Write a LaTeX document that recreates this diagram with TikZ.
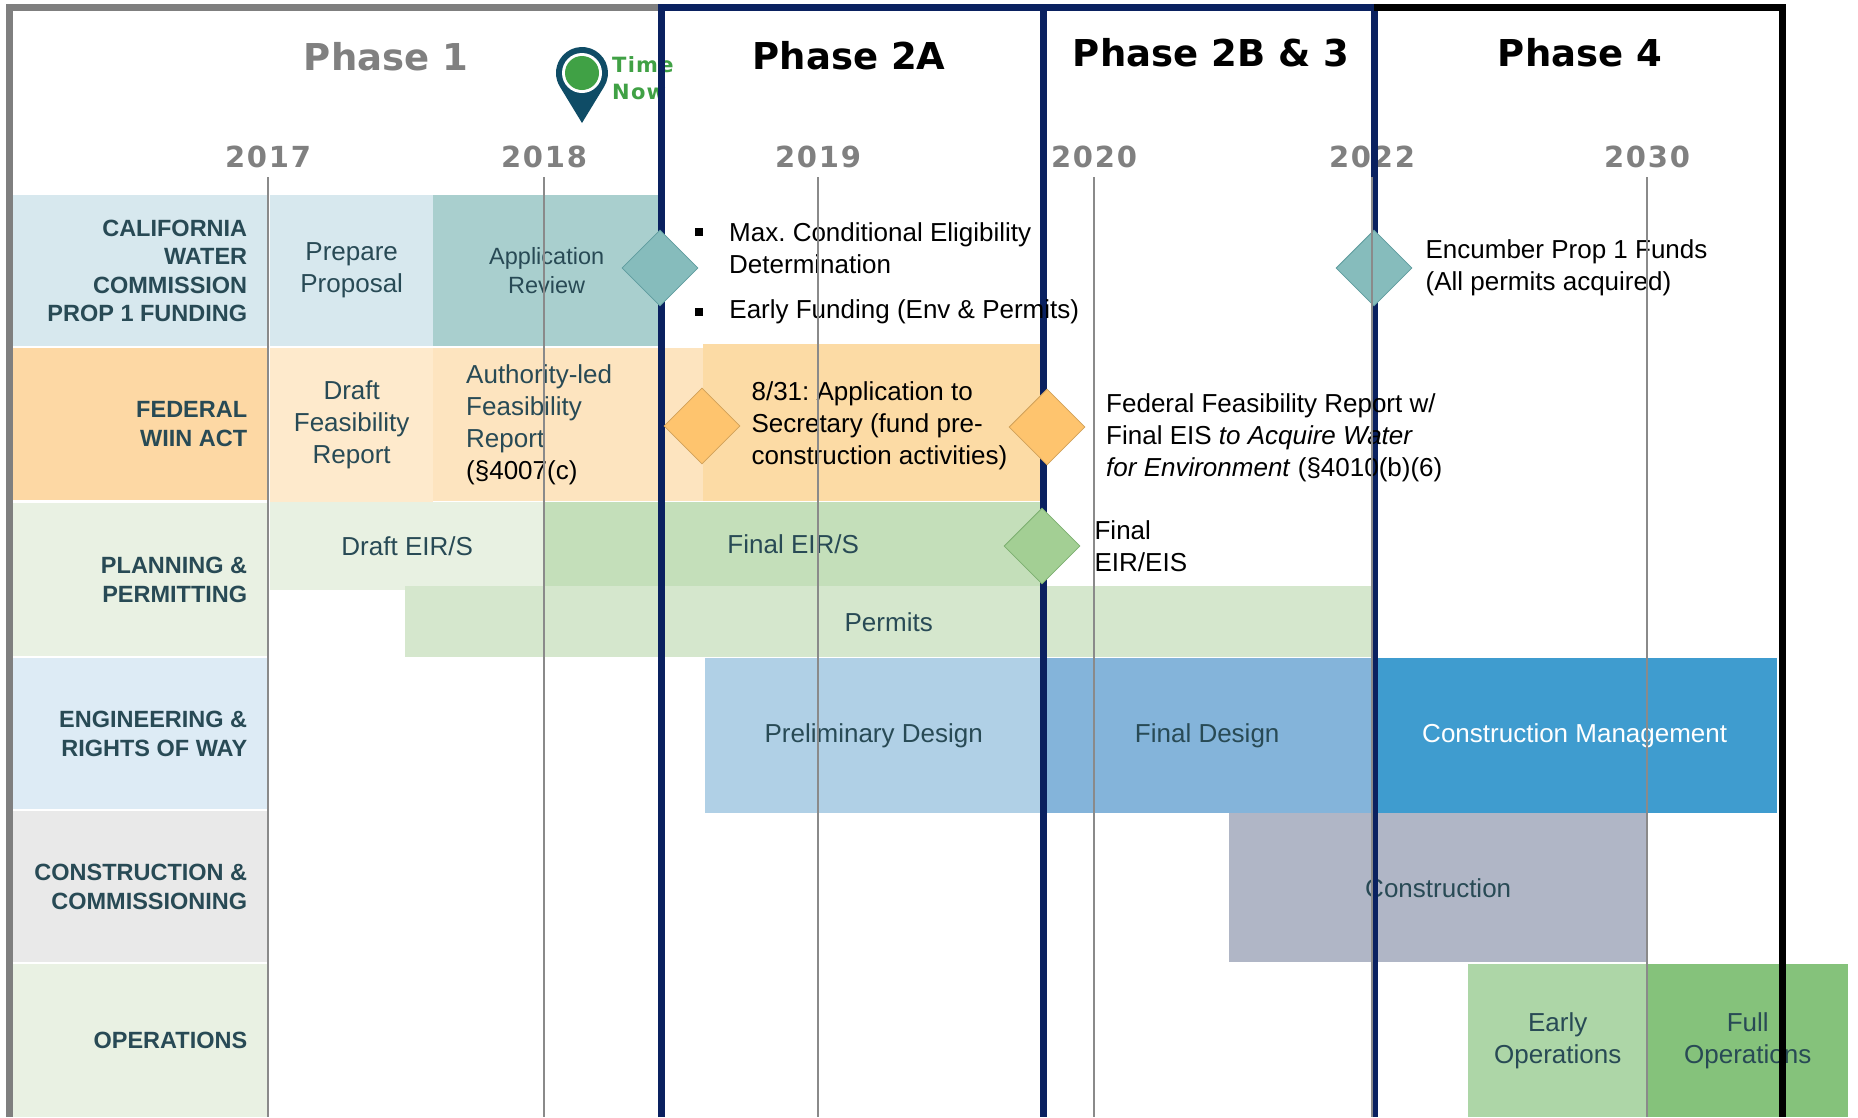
\documentclass[tikz,border=0pt]{standalone}
\usepackage{fontspec}
\setmainfont{Liberation Sans}
\newfontfamily\phasefont{DejaVu Sans}
\newfontfamily\yearfont[LetterSpace=6]{DejaVu Sans}
\usepackage{tikz}
\usetikzlibrary{shapes.geometric, positioning}
\frenchspacing

\definecolor{ink}{HTML}{284A55}
\definecolor{rowblue}{HTML}{D7E8EE}
\definecolor{apptea}{HTML}{A9CFCE}
\definecolor{feddark}{HTML}{FDD8A4}
\definecolor{feaslt}{HTML}{FEEACC}
\definecolor{author}{HTML}{FDE4BF}
\definecolor{orgbar}{HTML}{FCDBA5}
\definecolor{eirlt}{HTML}{E8F1E2}
\definecolor{eirdk}{HTML}{C4DFBA}
\definecolor{permit}{HTML}{D5E7CD}
\definecolor{planlt}{HTML}{E9F1E3}
\definecolor{englt}{HTML}{DDEBF5}
\definecolor{conlt}{HTML}{E9E9E9}
\definecolor{prelim}{HTML}{B0D0E6}
\definecolor{findes}{HTML}{84B4DA}
\definecolor{cmblue}{HTML}{3F9CCF}
\definecolor{constr}{HTML}{B0B6C6}
\definecolor{earlyop}{HTML}{ADD6A7}
\definecolor{fullop}{HTML}{85C27B}
\definecolor{tealdm}{HTML}{86BCBC}
\definecolor{tealline}{HTML}{5F9C9E}
\definecolor{orgdm}{HTML}{FEC46E}
\definecolor{orgline}{HTML}{D0A15A}
\definecolor{grndm}{HTML}{A3CF94}
\definecolor{grnline}{HTML}{7CAF70}
\definecolor{navy}{HTML}{0A2160}
\definecolor{framegray}{HTML}{7F7F7F}
\definecolor{linegray}{HTML}{8A8A8A}
\definecolor{yeargray}{HTML}{808080}
\definecolor{pinblue}{HTML}{0F4C66}
\definecolor{pingreen}{HTML}{40A145}

\begin{document}
\begin{tikzpicture}[x=1pt, y=-1pt,
  rowbg/.style={anchor=north west, inner sep=0, minimum width=256},
  lab/.style={anchor=east, align=right, inner sep=0, text=ink, font=\bfseries\fontsize{23.5}{28.5}\selectfont},
  task/.style={anchor=north west, inner sep=0, align=center, text=ink, font=\fontsize{26}{32}\selectfont},
  note/.style={anchor=west, align=left, inner sep=0, font=\fontsize{26}{32}\selectfont},
  phasetitle/.style={font=\phasefont\bfseries\fontsize{37}{40}\selectfont},
  yr/.style={text=yeargray, font=\yearfont\bfseries\fontsize{29}{32}\selectfont},
  mile/.style={diamond, draw, inner sep=0, minimum size=76, line width=0.8},
  yearline/.style={draw=linegray, line width=1.6},
  phaseline/.style={line width=7}]

  \fill[white] (0,0) rectangle (1858,1117);
  \useasboundingbox (0,0) rectangle (1858,1117);
  \coordinate (bot) at (0,1117);

  % row headers
  \node[rowbg, fill=rowblue, minimum height=151] (row1) at (12,195) {};
  \node[rowbg, fill=feddark, minimum height=152] (row2) at (12,348) {};
  \node[rowbg, fill=planlt, minimum height=153] (row3) at (12,503) {};
  \node[rowbg, fill=englt, minimum height=151] (row4) at (12,658) {};
  \node[rowbg, fill=conlt, minimum height=151] (row5) at (12,811) {};
  \node[rowbg, fill=planlt, minimum height=153] (row6) at (12,964) {};

  \node[lab] (lab1) at ([xshift=-21pt]row1.east) {CALIFORNIA\\WATER\\COMMISSION\\PROP 1 FUNDING};
  \node[lab] (lab2) at ([xshift=-21pt]row2.east) {FEDERAL\\WIIN ACT};
  \node[lab] (lab3) at ([xshift=-21pt]row3.east) {PLANNING \&\\PERMITTING};
  \node[lab] (lab4) at ([xshift=-21pt]row4.east) {ENGINEERING \&\\RIGHTS OF WAY};
  \node[lab] (lab5) at ([xshift=-21pt]row5.east) {CONSTRUCTION \&\\COMMISSIONING};
  \node[lab] (lab6) at ([xshift=-21pt]row6.east) {OPERATIONS};

  % bars
  \node[task, fill=rowblue, minimum width=163, minimum height=151] (prep) at (270,195) {Prepare\\Proposal};
  \node[task, fill=apptea, minimum width=227, minimum height=151,
        font=\fontsize{23.5}{28.5}\selectfont] (appr) at (433,195) {Application\\Review};
  \node[task, fill=feaslt, minimum width=163, minimum height=154] (dfr) at (270,348) {Draft\\Feasibility\\Report};
  \node[task, fill=author, minimum width=270, minimum height=153] (afr) at (433,348) {};
  \node[note, text=ink] (afrT) at (466,425) {Authority-led\\Feasibility\\Report\\{\color{black}(§4007(c)}};
  \node[task, fill=orgbar, minimum width=337, minimum height=157] (apsec) at (703,344) {};
  \node[task, fill=eirlt, minimum width=274, minimum height=88] (deir) at (270,502) {Draft EIR/S};
  \node[task, fill=eirdk, minimum width=498, minimum height=84] (feir) at (544,502) {Final EIR/S};
  \node[task, fill=permit, minimum width=967, minimum height=71] (perm) at (405,586) {Permits};
  \node[task, fill=prelim, minimum width=337, minimum height=155] (pd) at (705,658) {Preliminary Design};
  \node[task, fill=findes, minimum width=330, minimum height=155] (fd) at (1042,658) {Final Design};
  \node[task, fill=cmblue, text=white, minimum width=405, minimum height=155] (cm) at (1372,658) {Construction Management};
  \node[task, fill=constr, minimum width=418, minimum height=149] (con) at (1229,813) {Construction};
  \node[task, fill=earlyop, minimum width=179, minimum height=153] (eop) at (1468,964) {Early\\Operations};
  \node[task, fill=fullop, minimum width=201, minimum height=153] (fop) at (1647,964) {Full\\Operations};

  % headings
  \node[phasetitle, text=yeargray] (ph1) at (386,57) {Phase 1};
  \node[phasetitle] (ph2a) at (849,56) {Phase 2A};
  \node[phasetitle] (ph2b) at (1211,53) {Phase 2B \& 3};
  \node[phasetitle] (ph4) at (1580,53) {Phase 4};
  \foreach \yr/\xx in {2017/268,2018/544,2019/818,2020/1094,2022/1372,2030/1647}
    \node[yr] (y\yr) at (\xx,157) {\yr};

  % time now pin
  \coordinate (pinc) at (582,73);
  \coordinate (pintip) at (582,123);
  \fill[pinblue] (pintip) -- ([shift={(-31.3:26pt)}]pinc) arc[start angle=-31.3, end angle=211.3, radius=26pt] -- cycle;
  \fill[white] (pinc) circle[radius=20pt];
  \fill[pingreen] (pinc) circle[radius=17pt];
  \node[anchor=west, align=left, inner sep=0, text=pingreen,
        font=\yearfont\bfseries\fontsize{21}{27}\selectfont] (tnow) at (612,78) {Time\\Now};

  % phase frames
  \draw[phaseline, draw=framegray] (9,1117) -- (9,7) -- (661,7);
  \draw[phaseline, draw=navy] (661,1117) -- (661,7) -- (1374,7) -- (1374,1117);
  \draw[phaseline, draw=navy] (1043,7) -- (1043,1117);
  \draw[phaseline, draw=black] (1374,7) -- (1782,7) -- (1782,1117);

  % milestones
  \node[mile, fill=tealdm, draw=tealline] (m1) at (660,268) {};
  \node[mile, fill=orgdm, draw=orgline] (m2) at (702,426) {};
  \node[mile, fill=orgdm, draw=orgline] (m3) at (1047,427) {};
  \node[mile, fill=grndm, draw=grnline] (m4) at (1042,546) {};
  \node[mile, fill=tealdm, draw=tealline] (m5) at (1374,268) {};

  \node[fill, inner sep=0, minimum size=8] (b1) at (699,232) {};
  \node[fill, inner sep=0, minimum size=8] (b2) at (699,312) {};
  \node[note] (maxc) at (729,248) {Max. Conditional Eligibility\\Determination};
  \node[note, right=26pt of b2] (early) {Early Funding (Env \& Permits)};
  \node[note, right=11pt of m2] (secr) {8/31: Application to\\Secretary (fund pre-\\construction activities)};
  \node[note] (fedT) at (1106,438) {Federal Feasibility Report w/\\Final EIS \textit{to Acquire Water}\\\textit{for Environment} (§4010(b)(6)};
  \node[note, right=14pt of m4] (feis) {Final\\EIR/EIS};
  \node[note, right=13pt of m5] (enc) {Encumber Prop 1 Funds\\(All permits acquired)};

  % year lines
  \foreach \yr in {2017,2018,2019,2020,2022,2030}
    \draw[yearline] ([yshift=-20pt]y\yr.center) -- (y\yr |- bot);
\end{tikzpicture}
\end{document}
